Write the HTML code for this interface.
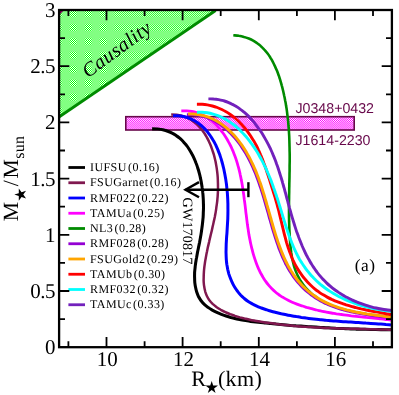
<!DOCTYPE html>
<html><head><meta charset="utf-8"><title>M-R</title>
<style>
html,body{margin:0;padding:0;background:#fff;}
svg{display:block;will-change:transform;}
text{font-family:"Liberation Serif",serif;fill:#000;text-rendering:geometricPrecision;}
.s{font-family:"Liberation Sans",sans-serif;fill:#67074a;}
</style></head><body>
<svg width="399" height="395" viewBox="0 0 399 395">
<rect width="399" height="395" fill="#fff"/>
<defs>
<pattern id="ckg" width="2" height="2" patternUnits="userSpaceOnUse" shape-rendering="crispEdges"><rect width="2" height="2" fill="#ffffff"/><rect width="1" height="1" fill="#00ff00"/><rect x="1" y="1" width="1" height="1" fill="#00ff00"/></pattern>
<pattern id="ckm" width="2" height="2" patternUnits="userSpaceOnUse" shape-rendering="crispEdges"><rect width="2" height="2" fill="#ffffff"/><rect width="1" height="1" fill="#ff00ff"/><rect x="1" y="1" width="1" height="1" fill="#ff00ff"/></pattern>
<clipPath id="cp"><rect x="59" y="10" width="333" height="337.2"/></clipPath>
<clipPath id="ctri"><polygon points="59.1,10.0 215.6,10.5 59.0,117.0"/></clipPath>
</defs>
<g clip-path="url(#ctri)" shape-rendering="crispEdges"><rect x="59" y="10" width="158" height="108" fill="url(#ckg)"/><g fill="#82ff82"><rect x="59" y="10" width="158" height="1" fill-opacity="0.31"/><rect x="59" y="11" width="158" height="1" fill-opacity="0.00"/><rect x="59" y="12" width="158" height="1" fill-opacity="0.00"/><rect x="59" y="13" width="158" height="1" fill-opacity="0.00"/><rect x="59" y="14" width="158" height="1" fill-opacity="0.00"/><rect x="59" y="15" width="158" height="1" fill-opacity="0.00"/><rect x="59" y="16" width="158" height="1" fill-opacity="0.23"/><rect x="59" y="17" width="158" height="1" fill-opacity="0.70"/><rect x="59" y="18" width="158" height="1" fill-opacity="0.90"/><rect x="59" y="19" width="158" height="1" fill-opacity="0.94"/><rect x="59" y="20" width="158" height="1" fill-opacity="0.96"/><rect x="59" y="21" width="158" height="1" fill-opacity="0.94"/><rect x="59" y="22" width="158" height="1" fill-opacity="0.92"/><rect x="59" y="23" width="158" height="1" fill-opacity="0.75"/><rect x="59" y="24" width="158" height="1" fill-opacity="0.27"/><rect x="59" y="25" width="158" height="1" fill-opacity="0.00"/><rect x="59" y="26" width="158" height="1" fill-opacity="0.00"/><rect x="59" y="27" width="158" height="1" fill-opacity="0.00"/><rect x="59" y="28" width="158" height="1" fill-opacity="0.00"/><rect x="59" y="29" width="158" height="1" fill-opacity="0.00"/><rect x="59" y="30" width="158" height="1" fill-opacity="0.27"/><rect x="59" y="31" width="158" height="1" fill-opacity="0.75"/><rect x="59" y="32" width="158" height="1" fill-opacity="0.92"/><rect x="59" y="33" width="158" height="1" fill-opacity="0.94"/><rect x="59" y="34" width="158" height="1" fill-opacity="0.96"/><rect x="59" y="35" width="158" height="1" fill-opacity="0.94"/><rect x="59" y="36" width="158" height="1" fill-opacity="0.90"/><rect x="59" y="37" width="158" height="1" fill-opacity="0.70"/><rect x="59" y="38" width="158" height="1" fill-opacity="0.23"/><rect x="59" y="39" width="158" height="1" fill-opacity="0.00"/><rect x="59" y="40" width="158" height="1" fill-opacity="0.00"/><rect x="59" y="41" width="158" height="1" fill-opacity="0.00"/><rect x="59" y="42" width="158" height="1" fill-opacity="0.00"/><rect x="59" y="43" width="158" height="1" fill-opacity="0.00"/><rect x="59" y="44" width="158" height="1" fill-opacity="0.31"/><rect x="59" y="45" width="158" height="1" fill-opacity="0.77"/><rect x="59" y="46" width="158" height="1" fill-opacity="0.92"/><rect x="59" y="47" width="158" height="1" fill-opacity="0.94"/><rect x="59" y="48" width="158" height="1" fill-opacity="0.96"/><rect x="59" y="49" width="158" height="1" fill-opacity="0.94"/><rect x="59" y="50" width="158" height="1" fill-opacity="0.89"/><rect x="59" y="51" width="158" height="1" fill-opacity="0.65"/><rect x="59" y="52" width="158" height="1" fill-opacity="0.19"/><rect x="59" y="53" width="158" height="1" fill-opacity="0.00"/><rect x="59" y="54" width="158" height="1" fill-opacity="0.00"/><rect x="59" y="55" width="158" height="1" fill-opacity="0.00"/><rect x="59" y="56" width="158" height="1" fill-opacity="0.00"/><rect x="59" y="57" width="158" height="1" fill-opacity="0.00"/><rect x="59" y="58" width="158" height="1" fill-opacity="0.35"/><rect x="59" y="59" width="158" height="1" fill-opacity="0.78"/><rect x="59" y="60" width="158" height="1" fill-opacity="0.92"/><rect x="59" y="61" width="158" height="1" fill-opacity="0.94"/><rect x="59" y="62" width="158" height="1" fill-opacity="0.95"/><rect x="59" y="63" width="158" height="1" fill-opacity="0.93"/><rect x="59" y="64" width="158" height="1" fill-opacity="0.87"/><rect x="59" y="65" width="158" height="1" fill-opacity="0.60"/><rect x="59" y="66" width="158" height="1" fill-opacity="0.16"/><rect x="59" y="67" width="158" height="1" fill-opacity="0.00"/><rect x="59" y="68" width="158" height="1" fill-opacity="0.00"/><rect x="59" y="69" width="158" height="1" fill-opacity="0.00"/><rect x="59" y="70" width="158" height="1" fill-opacity="0.00"/><rect x="59" y="71" width="158" height="1" fill-opacity="0.00"/><rect x="59" y="72" width="158" height="1" fill-opacity="0.40"/><rect x="59" y="73" width="158" height="1" fill-opacity="0.80"/><rect x="59" y="74" width="158" height="1" fill-opacity="0.93"/><rect x="59" y="75" width="158" height="1" fill-opacity="0.95"/><rect x="59" y="76" width="158" height="1" fill-opacity="0.95"/><rect x="59" y="77" width="158" height="1" fill-opacity="0.93"/><rect x="59" y="78" width="158" height="1" fill-opacity="0.85"/><rect x="59" y="79" width="158" height="1" fill-opacity="0.55"/><rect x="59" y="80" width="158" height="1" fill-opacity="0.12"/><rect x="59" y="81" width="158" height="1" fill-opacity="0.00"/><rect x="59" y="82" width="158" height="1" fill-opacity="0.00"/><rect x="59" y="83" width="158" height="1" fill-opacity="0.00"/><rect x="59" y="84" width="158" height="1" fill-opacity="0.00"/><rect x="59" y="85" width="158" height="1" fill-opacity="0.04"/><rect x="59" y="86" width="158" height="1" fill-opacity="0.45"/><rect x="59" y="87" width="158" height="1" fill-opacity="0.82"/><rect x="59" y="88" width="158" height="1" fill-opacity="0.93"/><rect x="59" y="89" width="158" height="1" fill-opacity="0.95"/><rect x="59" y="90" width="158" height="1" fill-opacity="0.95"/><rect x="59" y="91" width="158" height="1" fill-opacity="0.93"/><rect x="59" y="92" width="158" height="1" fill-opacity="0.83"/><rect x="59" y="93" width="158" height="1" fill-opacity="0.50"/><rect x="59" y="94" width="158" height="1" fill-opacity="0.08"/><rect x="59" y="95" width="158" height="1" fill-opacity="0.00"/><rect x="59" y="96" width="158" height="1" fill-opacity="0.00"/><rect x="59" y="97" width="158" height="1" fill-opacity="0.00"/><rect x="59" y="98" width="158" height="1" fill-opacity="0.00"/><rect x="59" y="99" width="158" height="1" fill-opacity="0.08"/><rect x="59" y="100" width="158" height="1" fill-opacity="0.50"/><rect x="59" y="101" width="158" height="1" fill-opacity="0.84"/><rect x="59" y="102" width="158" height="1" fill-opacity="0.93"/><rect x="59" y="103" width="158" height="1" fill-opacity="0.95"/><rect x="59" y="104" width="158" height="1" fill-opacity="0.95"/><rect x="59" y="105" width="158" height="1" fill-opacity="0.93"/><rect x="59" y="106" width="158" height="1" fill-opacity="0.82"/><rect x="59" y="107" width="158" height="1" fill-opacity="0.45"/><rect x="59" y="108" width="158" height="1" fill-opacity="0.04"/><rect x="59" y="109" width="158" height="1" fill-opacity="0.00"/><rect x="59" y="110" width="158" height="1" fill-opacity="0.00"/><rect x="59" y="111" width="158" height="1" fill-opacity="0.00"/><rect x="59" y="112" width="158" height="1" fill-opacity="0.00"/><rect x="59" y="113" width="158" height="1" fill-opacity="0.12"/><rect x="59" y="114" width="158" height="1" fill-opacity="0.55"/><rect x="59" y="115" width="158" height="1" fill-opacity="0.85"/><rect x="59" y="116" width="158" height="1" fill-opacity="0.93"/><rect x="59" y="117" width="158" height="1" fill-opacity="0.95"/><rect x="59" y="10" width="1" height="108" fill-opacity="0.00"/><rect x="60" y="10" width="1" height="108" fill-opacity="0.00"/><rect x="61" y="10" width="1" height="108" fill-opacity="0.35"/><rect x="62" y="10" width="1" height="108" fill-opacity="0.78"/><rect x="63" y="10" width="1" height="108" fill-opacity="0.92"/><rect x="64" y="10" width="1" height="108" fill-opacity="0.94"/><rect x="65" y="10" width="1" height="108" fill-opacity="0.96"/><rect x="66" y="10" width="1" height="108" fill-opacity="0.96"/><rect x="67" y="10" width="1" height="108" fill-opacity="0.94"/><rect x="68" y="10" width="1" height="108" fill-opacity="0.89"/><rect x="69" y="10" width="1" height="108" fill-opacity="0.65"/><rect x="70" y="10" width="1" height="108" fill-opacity="0.19"/><rect x="71" y="10" width="1" height="108" fill-opacity="0.00"/><rect x="72" y="10" width="1" height="108" fill-opacity="0.00"/><rect x="73" y="10" width="1" height="108" fill-opacity="0.00"/><rect x="74" y="10" width="1" height="108" fill-opacity="0.00"/><rect x="75" y="10" width="1" height="108" fill-opacity="0.00"/><rect x="76" y="10" width="1" height="108" fill-opacity="0.35"/><rect x="77" y="10" width="1" height="108" fill-opacity="0.78"/><rect x="78" y="10" width="1" height="108" fill-opacity="0.92"/><rect x="79" y="10" width="1" height="108" fill-opacity="0.94"/><rect x="80" y="10" width="1" height="108" fill-opacity="0.96"/><rect x="81" y="10" width="1" height="108" fill-opacity="0.96"/><rect x="82" y="10" width="1" height="108" fill-opacity="0.94"/><rect x="83" y="10" width="1" height="108" fill-opacity="0.89"/><rect x="84" y="10" width="1" height="108" fill-opacity="0.65"/><rect x="85" y="10" width="1" height="108" fill-opacity="0.19"/><rect x="86" y="10" width="1" height="108" fill-opacity="0.00"/><rect x="87" y="10" width="1" height="108" fill-opacity="0.00"/><rect x="88" y="10" width="1" height="108" fill-opacity="0.00"/><rect x="89" y="10" width="1" height="108" fill-opacity="0.00"/><rect x="90" y="10" width="1" height="108" fill-opacity="0.00"/><rect x="91" y="10" width="1" height="108" fill-opacity="0.35"/><rect x="92" y="10" width="1" height="108" fill-opacity="0.78"/><rect x="93" y="10" width="1" height="108" fill-opacity="0.92"/><rect x="94" y="10" width="1" height="108" fill-opacity="0.94"/><rect x="95" y="10" width="1" height="108" fill-opacity="0.96"/><rect x="96" y="10" width="1" height="108" fill-opacity="0.96"/><rect x="97" y="10" width="1" height="108" fill-opacity="0.94"/><rect x="98" y="10" width="1" height="108" fill-opacity="0.89"/><rect x="99" y="10" width="1" height="108" fill-opacity="0.65"/><rect x="100" y="10" width="1" height="108" fill-opacity="0.19"/><rect x="101" y="10" width="1" height="108" fill-opacity="0.00"/><rect x="102" y="10" width="1" height="108" fill-opacity="0.00"/><rect x="103" y="10" width="1" height="108" fill-opacity="0.00"/><rect x="104" y="10" width="1" height="108" fill-opacity="0.00"/><rect x="105" y="10" width="1" height="108" fill-opacity="0.00"/><rect x="106" y="10" width="1" height="108" fill-opacity="0.35"/><rect x="107" y="10" width="1" height="108" fill-opacity="0.78"/><rect x="108" y="10" width="1" height="108" fill-opacity="0.92"/><rect x="109" y="10" width="1" height="108" fill-opacity="0.94"/><rect x="110" y="10" width="1" height="108" fill-opacity="0.96"/><rect x="111" y="10" width="1" height="108" fill-opacity="0.90"/><rect x="112" y="10" width="1" height="108" fill-opacity="0.82"/><rect x="113" y="10" width="1" height="108" fill-opacity="0.73"/><rect x="114" y="10" width="1" height="108" fill-opacity="0.54"/><rect x="115" y="10" width="1" height="108" fill-opacity="0.29"/><rect x="116" y="10" width="1" height="108" fill-opacity="0.23"/><rect x="117" y="10" width="1" height="108" fill-opacity="0.27"/><rect x="118" y="10" width="1" height="108" fill-opacity="0.30"/><rect x="119" y="10" width="1" height="108" fill-opacity="0.34"/><rect x="120" y="10" width="1" height="108" fill-opacity="0.38"/><rect x="121" y="10" width="1" height="108" fill-opacity="0.38"/><rect x="122" y="10" width="1" height="108" fill-opacity="0.38"/><rect x="123" y="10" width="1" height="108" fill-opacity="0.38"/><rect x="124" y="10" width="1" height="108" fill-opacity="0.38"/><rect x="125" y="10" width="1" height="108" fill-opacity="0.38"/><rect x="126" y="10" width="1" height="108" fill-opacity="0.38"/><rect x="127" y="10" width="1" height="108" fill-opacity="0.38"/><rect x="128" y="10" width="1" height="108" fill-opacity="0.38"/><rect x="129" y="10" width="1" height="108" fill-opacity="0.38"/><rect x="130" y="10" width="1" height="108" fill-opacity="0.38"/><rect x="131" y="10" width="1" height="108" fill-opacity="0.38"/><rect x="132" y="10" width="1" height="108" fill-opacity="0.38"/><rect x="133" y="10" width="1" height="108" fill-opacity="0.38"/><rect x="134" y="10" width="1" height="108" fill-opacity="0.38"/><rect x="135" y="10" width="1" height="108" fill-opacity="0.38"/><rect x="136" y="10" width="1" height="108" fill-opacity="0.38"/><rect x="137" y="10" width="1" height="108" fill-opacity="0.38"/><rect x="138" y="10" width="1" height="108" fill-opacity="0.38"/><rect x="139" y="10" width="1" height="108" fill-opacity="0.38"/><rect x="140" y="10" width="1" height="108" fill-opacity="0.38"/><rect x="141" y="10" width="1" height="108" fill-opacity="0.38"/><rect x="142" y="10" width="1" height="108" fill-opacity="0.38"/><rect x="143" y="10" width="1" height="108" fill-opacity="0.38"/><rect x="144" y="10" width="1" height="108" fill-opacity="0.38"/><rect x="145" y="10" width="1" height="108" fill-opacity="0.38"/><rect x="146" y="10" width="1" height="108" fill-opacity="0.38"/><rect x="147" y="10" width="1" height="108" fill-opacity="0.38"/><rect x="148" y="10" width="1" height="108" fill-opacity="0.38"/><rect x="149" y="10" width="1" height="108" fill-opacity="0.38"/><rect x="150" y="10" width="1" height="108" fill-opacity="0.38"/><rect x="151" y="10" width="1" height="108" fill-opacity="0.38"/><rect x="152" y="10" width="1" height="108" fill-opacity="0.38"/><rect x="153" y="10" width="1" height="108" fill-opacity="0.38"/><rect x="154" y="10" width="1" height="108" fill-opacity="0.38"/><rect x="155" y="10" width="1" height="108" fill-opacity="0.38"/><rect x="156" y="10" width="1" height="108" fill-opacity="0.38"/><rect x="157" y="10" width="1" height="108" fill-opacity="0.38"/><rect x="158" y="10" width="1" height="108" fill-opacity="0.38"/><rect x="159" y="10" width="1" height="108" fill-opacity="0.38"/><rect x="160" y="10" width="1" height="108" fill-opacity="0.38"/><rect x="161" y="10" width="1" height="108" fill-opacity="0.38"/><rect x="162" y="10" width="1" height="108" fill-opacity="0.38"/><rect x="163" y="10" width="1" height="108" fill-opacity="0.38"/><rect x="164" y="10" width="1" height="108" fill-opacity="0.38"/><rect x="165" y="10" width="1" height="108" fill-opacity="0.38"/><rect x="166" y="10" width="1" height="108" fill-opacity="0.38"/><rect x="167" y="10" width="1" height="108" fill-opacity="0.38"/><rect x="168" y="10" width="1" height="108" fill-opacity="0.38"/><rect x="169" y="10" width="1" height="108" fill-opacity="0.38"/><rect x="170" y="10" width="1" height="108" fill-opacity="0.38"/><rect x="171" y="10" width="1" height="108" fill-opacity="0.38"/><rect x="172" y="10" width="1" height="108" fill-opacity="0.38"/><rect x="173" y="10" width="1" height="108" fill-opacity="0.38"/><rect x="174" y="10" width="1" height="108" fill-opacity="0.38"/><rect x="175" y="10" width="1" height="108" fill-opacity="0.38"/><rect x="176" y="10" width="1" height="108" fill-opacity="0.38"/><rect x="177" y="10" width="1" height="108" fill-opacity="0.38"/><rect x="178" y="10" width="1" height="108" fill-opacity="0.38"/><rect x="179" y="10" width="1" height="108" fill-opacity="0.38"/><rect x="180" y="10" width="1" height="108" fill-opacity="0.38"/><rect x="181" y="10" width="1" height="108" fill-opacity="0.38"/><rect x="182" y="10" width="1" height="108" fill-opacity="0.38"/><rect x="183" y="10" width="1" height="108" fill-opacity="0.38"/><rect x="184" y="10" width="1" height="108" fill-opacity="0.38"/><rect x="185" y="10" width="1" height="108" fill-opacity="0.38"/><rect x="186" y="10" width="1" height="108" fill-opacity="0.38"/><rect x="187" y="10" width="1" height="108" fill-opacity="0.38"/><rect x="188" y="10" width="1" height="108" fill-opacity="0.38"/><rect x="189" y="10" width="1" height="108" fill-opacity="0.38"/><rect x="190" y="10" width="1" height="108" fill-opacity="0.38"/><rect x="191" y="10" width="1" height="108" fill-opacity="0.38"/><rect x="192" y="10" width="1" height="108" fill-opacity="0.38"/><rect x="193" y="10" width="1" height="108" fill-opacity="0.38"/><rect x="194" y="10" width="1" height="108" fill-opacity="0.38"/><rect x="195" y="10" width="1" height="108" fill-opacity="0.38"/><rect x="196" y="10" width="1" height="108" fill-opacity="0.38"/><rect x="197" y="10" width="1" height="108" fill-opacity="0.38"/><rect x="198" y="10" width="1" height="108" fill-opacity="0.38"/><rect x="199" y="10" width="1" height="108" fill-opacity="0.38"/><rect x="200" y="10" width="1" height="108" fill-opacity="0.38"/><rect x="201" y="10" width="1" height="108" fill-opacity="0.38"/><rect x="202" y="10" width="1" height="108" fill-opacity="0.38"/><rect x="203" y="10" width="1" height="108" fill-opacity="0.38"/><rect x="204" y="10" width="1" height="108" fill-opacity="0.38"/><rect x="205" y="10" width="1" height="108" fill-opacity="0.38"/><rect x="206" y="10" width="1" height="108" fill-opacity="0.38"/><rect x="207" y="10" width="1" height="108" fill-opacity="0.38"/><rect x="208" y="10" width="1" height="108" fill-opacity="0.38"/><rect x="209" y="10" width="1" height="108" fill-opacity="0.38"/><rect x="210" y="10" width="1" height="108" fill-opacity="0.38"/><rect x="211" y="10" width="1" height="108" fill-opacity="0.38"/><rect x="212" y="10" width="1" height="108" fill-opacity="0.38"/><rect x="213" y="10" width="1" height="108" fill-opacity="0.38"/><rect x="214" y="10" width="1" height="108" fill-opacity="0.38"/><rect x="215" y="10" width="1" height="108" fill-opacity="0.38"/><rect x="216" y="10" width="1" height="108" fill-opacity="0.38"/></g></g>
<polygon points="59.5,10.5 63.8,10.5 59.5,14.8" fill="#800a5a"/>
<line x1="59.0" y1="117.0" x2="215.6" y2="10.5" stroke="#008b00" stroke-width="2.80"/>
<text x="0" y="0" font-style="italic" font-size="20.0" letter-spacing="0.45" transform="translate(88.0,78.4) rotate(-36.3)">Causality</text>
<g shape-rendering="crispEdges"><rect x="126" y="117" width="228" height="13" fill="url(#ckm)"/><g fill="#ff78ff"><rect x="126" y="117" width="228" height="1" fill-opacity="0.05"/><rect x="126" y="118" width="228" height="1" fill-opacity="0.00"/><rect x="126" y="119" width="228" height="1" fill-opacity="0.00"/><rect x="126" y="120" width="228" height="1" fill-opacity="0.00"/><rect x="126" y="121" width="228" height="1" fill-opacity="0.05"/><rect x="126" y="122" width="228" height="1" fill-opacity="0.44"/><rect x="126" y="123" width="228" height="1" fill-opacity="0.64"/><rect x="126" y="124" width="228" height="1" fill-opacity="0.66"/><rect x="126" y="125" width="228" height="1" fill-opacity="0.68"/><rect x="126" y="126" width="228" height="1" fill-opacity="0.68"/><rect x="126" y="127" width="228" height="1" fill-opacity="0.68"/><rect x="126" y="128" width="228" height="1" fill-opacity="0.66"/><rect x="126" y="129" width="228" height="1" fill-opacity="0.63"/><rect x="126" y="117" width="1" height="13" fill-opacity="0.30"/><rect x="127" y="117" width="1" height="13" fill-opacity="0.30"/><rect x="128" y="117" width="1" height="13" fill-opacity="0.30"/><rect x="129" y="117" width="1" height="13" fill-opacity="0.30"/><rect x="130" y="117" width="1" height="13" fill-opacity="0.30"/><rect x="131" y="117" width="1" height="13" fill-opacity="0.30"/><rect x="132" y="117" width="1" height="13" fill-opacity="0.30"/><rect x="133" y="117" width="1" height="13" fill-opacity="0.30"/><rect x="134" y="117" width="1" height="13" fill-opacity="0.30"/><rect x="135" y="117" width="1" height="13" fill-opacity="0.30"/><rect x="136" y="117" width="1" height="13" fill-opacity="0.30"/><rect x="137" y="117" width="1" height="13" fill-opacity="0.30"/><rect x="138" y="117" width="1" height="13" fill-opacity="0.30"/><rect x="139" y="117" width="1" height="13" fill-opacity="0.30"/><rect x="140" y="117" width="1" height="13" fill-opacity="0.30"/><rect x="141" y="117" width="1" height="13" fill-opacity="0.30"/><rect x="142" y="117" width="1" height="13" fill-opacity="0.30"/><rect x="143" y="117" width="1" height="13" fill-opacity="0.30"/><rect x="144" y="117" width="1" height="13" fill-opacity="0.30"/><rect x="145" y="117" width="1" height="13" fill-opacity="0.30"/><rect x="146" y="117" width="1" height="13" fill-opacity="0.30"/><rect x="147" y="117" width="1" height="13" fill-opacity="0.30"/><rect x="148" y="117" width="1" height="13" fill-opacity="0.30"/><rect x="149" y="117" width="1" height="13" fill-opacity="0.30"/><rect x="150" y="117" width="1" height="13" fill-opacity="0.30"/><rect x="151" y="117" width="1" height="13" fill-opacity="0.30"/><rect x="152" y="117" width="1" height="13" fill-opacity="0.30"/><rect x="153" y="117" width="1" height="13" fill-opacity="0.30"/><rect x="154" y="117" width="1" height="13" fill-opacity="0.30"/><rect x="155" y="117" width="1" height="13" fill-opacity="0.30"/><rect x="156" y="117" width="1" height="13" fill-opacity="0.30"/><rect x="157" y="117" width="1" height="13" fill-opacity="0.30"/><rect x="158" y="117" width="1" height="13" fill-opacity="0.30"/><rect x="159" y="117" width="1" height="13" fill-opacity="0.30"/><rect x="160" y="117" width="1" height="13" fill-opacity="0.30"/><rect x="161" y="117" width="1" height="13" fill-opacity="0.30"/><rect x="162" y="117" width="1" height="13" fill-opacity="0.30"/><rect x="163" y="117" width="1" height="13" fill-opacity="0.30"/><rect x="164" y="117" width="1" height="13" fill-opacity="0.30"/><rect x="165" y="117" width="1" height="13" fill-opacity="0.30"/><rect x="166" y="117" width="1" height="13" fill-opacity="0.30"/><rect x="167" y="117" width="1" height="13" fill-opacity="0.30"/><rect x="168" y="117" width="1" height="13" fill-opacity="0.30"/><rect x="169" y="117" width="1" height="13" fill-opacity="0.30"/><rect x="170" y="117" width="1" height="13" fill-opacity="0.30"/><rect x="171" y="117" width="1" height="13" fill-opacity="0.30"/><rect x="172" y="117" width="1" height="13" fill-opacity="0.30"/><rect x="173" y="117" width="1" height="13" fill-opacity="0.30"/><rect x="174" y="117" width="1" height="13" fill-opacity="0.30"/><rect x="175" y="117" width="1" height="13" fill-opacity="0.30"/><rect x="176" y="117" width="1" height="13" fill-opacity="0.30"/><rect x="177" y="117" width="1" height="13" fill-opacity="0.30"/><rect x="178" y="117" width="1" height="13" fill-opacity="0.30"/><rect x="179" y="117" width="1" height="13" fill-opacity="0.30"/><rect x="180" y="117" width="1" height="13" fill-opacity="0.30"/><rect x="181" y="117" width="1" height="13" fill-opacity="0.30"/><rect x="182" y="117" width="1" height="13" fill-opacity="0.30"/><rect x="183" y="117" width="1" height="13" fill-opacity="0.30"/><rect x="184" y="117" width="1" height="13" fill-opacity="0.30"/><rect x="185" y="117" width="1" height="13" fill-opacity="0.30"/><rect x="186" y="117" width="1" height="13" fill-opacity="0.30"/><rect x="187" y="117" width="1" height="13" fill-opacity="0.30"/><rect x="188" y="117" width="1" height="13" fill-opacity="0.30"/><rect x="189" y="117" width="1" height="13" fill-opacity="0.30"/><rect x="190" y="117" width="1" height="13" fill-opacity="0.30"/><rect x="191" y="117" width="1" height="13" fill-opacity="0.29"/><rect x="192" y="117" width="1" height="13" fill-opacity="0.29"/><rect x="193" y="117" width="1" height="13" fill-opacity="0.28"/><rect x="194" y="117" width="1" height="13" fill-opacity="0.28"/><rect x="195" y="117" width="1" height="13" fill-opacity="0.27"/><rect x="196" y="117" width="1" height="13" fill-opacity="0.30"/><rect x="197" y="117" width="1" height="13" fill-opacity="0.34"/><rect x="198" y="117" width="1" height="13" fill-opacity="0.36"/><rect x="199" y="117" width="1" height="13" fill-opacity="0.37"/><rect x="200" y="117" width="1" height="13" fill-opacity="0.38"/><rect x="201" y="117" width="1" height="13" fill-opacity="0.39"/><rect x="202" y="117" width="1" height="13" fill-opacity="0.39"/><rect x="203" y="117" width="1" height="13" fill-opacity="0.36"/><rect x="204" y="117" width="1" height="13" fill-opacity="0.26"/><rect x="205" y="117" width="1" height="13" fill-opacity="0.21"/><rect x="206" y="117" width="1" height="13" fill-opacity="0.20"/><rect x="207" y="117" width="1" height="13" fill-opacity="0.20"/><rect x="208" y="117" width="1" height="13" fill-opacity="0.19"/><rect x="209" y="117" width="1" height="13" fill-opacity="0.19"/><rect x="210" y="117" width="1" height="13" fill-opacity="0.27"/><rect x="211" y="117" width="1" height="13" fill-opacity="0.42"/><rect x="212" y="117" width="1" height="13" fill-opacity="0.47"/><rect x="213" y="117" width="1" height="13" fill-opacity="0.49"/><rect x="214" y="117" width="1" height="13" fill-opacity="0.50"/><rect x="215" y="117" width="1" height="13" fill-opacity="0.50"/><rect x="216" y="117" width="1" height="13" fill-opacity="0.50"/><rect x="217" y="117" width="1" height="13" fill-opacity="0.46"/><rect x="218" y="117" width="1" height="13" fill-opacity="0.28"/><rect x="219" y="117" width="1" height="13" fill-opacity="0.13"/><rect x="220" y="117" width="1" height="13" fill-opacity="0.12"/><rect x="221" y="117" width="1" height="13" fill-opacity="0.11"/><rect x="222" y="117" width="1" height="13" fill-opacity="0.11"/><rect x="223" y="117" width="1" height="13" fill-opacity="0.10"/><rect x="224" y="117" width="1" height="13" fill-opacity="0.20"/><rect x="225" y="117" width="1" height="13" fill-opacity="0.43"/><rect x="226" y="117" width="1" height="13" fill-opacity="0.56"/><rect x="227" y="117" width="1" height="13" fill-opacity="0.60"/><rect x="228" y="117" width="1" height="13" fill-opacity="0.62"/><rect x="229" y="117" width="1" height="13" fill-opacity="0.62"/><rect x="230" y="117" width="1" height="13" fill-opacity="0.62"/><rect x="231" y="117" width="1" height="13" fill-opacity="0.57"/><rect x="232" y="117" width="1" height="13" fill-opacity="0.36"/><rect x="233" y="117" width="1" height="13" fill-opacity="0.09"/><rect x="234" y="117" width="1" height="13" fill-opacity="0.04"/><rect x="235" y="117" width="1" height="13" fill-opacity="0.03"/><rect x="236" y="117" width="1" height="13" fill-opacity="0.02"/><rect x="237" y="117" width="1" height="13" fill-opacity="0.02"/><rect x="238" y="117" width="1" height="13" fill-opacity="0.07"/><rect x="239" y="117" width="1" height="13" fill-opacity="0.37"/><rect x="240" y="117" width="1" height="13" fill-opacity="0.63"/><rect x="241" y="117" width="1" height="13" fill-opacity="0.70"/><rect x="242" y="117" width="1" height="13" fill-opacity="0.71"/><rect x="243" y="117" width="1" height="13" fill-opacity="0.72"/><rect x="244" y="117" width="1" height="13" fill-opacity="0.70"/><rect x="245" y="117" width="1" height="13" fill-opacity="0.66"/><rect x="246" y="117" width="1" height="13" fill-opacity="0.49"/><rect x="247" y="117" width="1" height="13" fill-opacity="0.15"/><rect x="248" y="117" width="1" height="13" fill-opacity="0.00"/><rect x="249" y="117" width="1" height="13" fill-opacity="0.00"/><rect x="250" y="117" width="1" height="13" fill-opacity="0.00"/><rect x="251" y="117" width="1" height="13" fill-opacity="0.00"/><rect x="252" y="117" width="1" height="13" fill-opacity="0.00"/><rect x="253" y="117" width="1" height="13" fill-opacity="0.26"/><rect x="254" y="117" width="1" height="13" fill-opacity="0.59"/><rect x="255" y="117" width="1" height="13" fill-opacity="0.69"/><rect x="256" y="117" width="1" height="13" fill-opacity="0.71"/><rect x="257" y="117" width="1" height="13" fill-opacity="0.72"/><rect x="258" y="117" width="1" height="13" fill-opacity="0.71"/><rect x="259" y="117" width="1" height="13" fill-opacity="0.69"/><rect x="260" y="117" width="1" height="13" fill-opacity="0.58"/><rect x="261" y="117" width="1" height="13" fill-opacity="0.23"/><rect x="262" y="117" width="1" height="13" fill-opacity="0.00"/><rect x="263" y="117" width="1" height="13" fill-opacity="0.00"/><rect x="264" y="117" width="1" height="13" fill-opacity="0.00"/><rect x="265" y="117" width="1" height="13" fill-opacity="0.00"/><rect x="266" y="117" width="1" height="13" fill-opacity="0.00"/><rect x="267" y="117" width="1" height="13" fill-opacity="0.18"/><rect x="268" y="117" width="1" height="13" fill-opacity="0.53"/><rect x="269" y="117" width="1" height="13" fill-opacity="0.68"/><rect x="270" y="117" width="1" height="13" fill-opacity="0.70"/><rect x="271" y="117" width="1" height="13" fill-opacity="0.72"/><rect x="272" y="117" width="1" height="13" fill-opacity="0.71"/><rect x="273" y="117" width="1" height="13" fill-opacity="0.70"/><rect x="274" y="117" width="1" height="13" fill-opacity="0.61"/><rect x="275" y="117" width="1" height="13" fill-opacity="0.34"/><rect x="276" y="117" width="1" height="13" fill-opacity="0.03"/><rect x="277" y="117" width="1" height="13" fill-opacity="0.00"/><rect x="278" y="117" width="1" height="13" fill-opacity="0.00"/><rect x="279" y="117" width="1" height="13" fill-opacity="0.00"/><rect x="280" y="117" width="1" height="13" fill-opacity="0.00"/><rect x="281" y="117" width="1" height="13" fill-opacity="0.09"/><rect x="282" y="117" width="1" height="13" fill-opacity="0.41"/><rect x="283" y="117" width="1" height="13" fill-opacity="0.64"/><rect x="284" y="117" width="1" height="13" fill-opacity="0.70"/><rect x="285" y="117" width="1" height="13" fill-opacity="0.71"/><rect x="286" y="117" width="1" height="13" fill-opacity="0.72"/><rect x="287" y="117" width="1" height="13" fill-opacity="0.70"/><rect x="288" y="117" width="1" height="13" fill-opacity="0.65"/><rect x="289" y="117" width="1" height="13" fill-opacity="0.45"/><rect x="290" y="117" width="1" height="13" fill-opacity="0.12"/><rect x="291" y="117" width="1" height="13" fill-opacity="0.00"/><rect x="292" y="117" width="1" height="13" fill-opacity="0.00"/><rect x="293" y="117" width="1" height="13" fill-opacity="0.00"/><rect x="294" y="117" width="1" height="13" fill-opacity="0.00"/><rect x="295" y="117" width="1" height="13" fill-opacity="0.00"/><rect x="296" y="117" width="1" height="13" fill-opacity="0.30"/><rect x="297" y="117" width="1" height="13" fill-opacity="0.60"/><rect x="298" y="117" width="1" height="13" fill-opacity="0.69"/><rect x="299" y="117" width="1" height="13" fill-opacity="0.71"/><rect x="300" y="117" width="1" height="13" fill-opacity="0.72"/><rect x="301" y="117" width="1" height="13" fill-opacity="0.70"/><rect x="302" y="117" width="1" height="13" fill-opacity="0.69"/><rect x="303" y="117" width="1" height="13" fill-opacity="0.56"/><rect x="304" y="117" width="1" height="13" fill-opacity="0.20"/><rect x="305" y="117" width="1" height="13" fill-opacity="0.00"/><rect x="306" y="117" width="1" height="13" fill-opacity="0.00"/><rect x="307" y="117" width="1" height="13" fill-opacity="0.00"/><rect x="308" y="117" width="1" height="13" fill-opacity="0.00"/><rect x="309" y="117" width="1" height="13" fill-opacity="0.00"/><rect x="310" y="117" width="1" height="13" fill-opacity="0.20"/><rect x="311" y="117" width="1" height="13" fill-opacity="0.56"/><rect x="312" y="117" width="1" height="13" fill-opacity="0.69"/><rect x="313" y="117" width="1" height="13" fill-opacity="0.71"/><rect x="314" y="117" width="1" height="13" fill-opacity="0.72"/><rect x="315" y="117" width="1" height="13" fill-opacity="0.71"/><rect x="316" y="117" width="1" height="13" fill-opacity="0.69"/><rect x="317" y="117" width="1" height="13" fill-opacity="0.60"/><rect x="318" y="117" width="1" height="13" fill-opacity="0.30"/><rect x="319" y="117" width="1" height="13" fill-opacity="0.00"/><rect x="320" y="117" width="1" height="13" fill-opacity="0.00"/><rect x="321" y="117" width="1" height="13" fill-opacity="0.00"/><rect x="322" y="117" width="1" height="13" fill-opacity="0.00"/><rect x="323" y="117" width="1" height="13" fill-opacity="0.00"/><rect x="324" y="117" width="1" height="13" fill-opacity="0.12"/><rect x="325" y="117" width="1" height="13" fill-opacity="0.45"/><rect x="326" y="117" width="1" height="13" fill-opacity="0.65"/><rect x="327" y="117" width="1" height="13" fill-opacity="0.70"/><rect x="328" y="117" width="1" height="13" fill-opacity="0.72"/><rect x="329" y="117" width="1" height="13" fill-opacity="0.71"/><rect x="330" y="117" width="1" height="13" fill-opacity="0.70"/><rect x="331" y="117" width="1" height="13" fill-opacity="0.64"/><rect x="332" y="117" width="1" height="13" fill-opacity="0.41"/><rect x="333" y="117" width="1" height="13" fill-opacity="0.09"/><rect x="334" y="117" width="1" height="13" fill-opacity="0.00"/><rect x="335" y="117" width="1" height="13" fill-opacity="0.00"/><rect x="336" y="117" width="1" height="13" fill-opacity="0.00"/><rect x="337" y="117" width="1" height="13" fill-opacity="0.00"/><rect x="338" y="117" width="1" height="13" fill-opacity="0.03"/><rect x="339" y="117" width="1" height="13" fill-opacity="0.34"/><rect x="340" y="117" width="1" height="13" fill-opacity="0.61"/><rect x="341" y="117" width="1" height="13" fill-opacity="0.70"/><rect x="342" y="117" width="1" height="13" fill-opacity="0.71"/><rect x="343" y="117" width="1" height="13" fill-opacity="0.72"/><rect x="344" y="117" width="1" height="13" fill-opacity="0.70"/><rect x="345" y="117" width="1" height="13" fill-opacity="0.68"/><rect x="346" y="117" width="1" height="13" fill-opacity="0.52"/><rect x="347" y="117" width="1" height="13" fill-opacity="0.17"/><rect x="348" y="117" width="1" height="13" fill-opacity="0.00"/><rect x="349" y="117" width="1" height="13" fill-opacity="0.00"/><rect x="350" y="117" width="1" height="13" fill-opacity="0.00"/><rect x="351" y="117" width="1" height="13" fill-opacity="0.00"/><rect x="352" y="117" width="1" height="13" fill-opacity="0.00"/><rect x="353" y="117" width="1" height="13" fill-opacity="0.23"/></g></g><rect x="125.8" y="116.7" width="228.4" height="13.3" fill="none" stroke="#67074a" stroke-width="1.60"/>
<g fill="none" stroke-width="2.60" stroke-linecap="butt" stroke-linejoin="round" clip-path="url(#cp)">
<path d="M152.1,128.9C153.0,128.9 155.9,128.9 157.7,129.0C159.5,129.2 161.2,129.4 162.8,129.8C164.5,130.2 166.1,130.6 167.7,131.2C169.2,131.7 170.7,132.4 172.1,133.1C173.5,133.8 174.9,134.7 176.2,135.6C177.5,136.4 178.8,137.4 180.0,138.4C181.2,139.5 182.3,140.6 183.4,141.8C184.5,142.9 185.5,144.2 186.5,145.4C187.5,146.7 188.4,148.1 189.3,149.5C190.2,150.9 191.0,152.3 191.8,153.8C192.6,155.2 193.4,156.8 194.1,158.3C194.8,159.8 195.4,161.4 196.0,163.0C196.7,164.6 197.2,166.2 197.7,167.9C198.3,169.5 198.8,171.2 199.2,172.9C199.6,174.5 200.1,176.2 200.4,177.9C200.8,179.6 201.1,181.3 201.4,182.9C201.7,184.6 202.0,186.3 202.2,187.9C202.5,189.6 202.7,191.3 202.8,192.9C203.0,194.6 203.1,196.2 203.2,197.9C203.3,199.5 203.4,201.2 203.4,202.8C203.5,204.4 203.5,206.1 203.5,207.7C203.5,209.4 203.4,211.0 203.3,212.6C203.3,214.3 203.2,215.9 203.1,217.6C202.9,219.2 202.8,220.8 202.6,222.5C202.4,224.1 202.3,225.8 202.0,227.4C201.8,229.0 201.6,230.7 201.3,232.4C201.1,234.0 200.8,235.7 200.5,237.3C200.2,239.0 199.9,240.7 199.6,242.3C199.2,244.0 198.9,245.7 198.5,247.4C198.2,249.1 197.8,250.8 197.5,252.4C197.2,254.1 196.9,255.8 196.6,257.5C196.2,259.2 196.0,260.9 195.7,262.6C195.5,264.3 195.2,265.9 195.1,267.6C194.9,269.3 194.7,271.0 194.6,272.7C194.6,274.3 194.5,276.0 194.6,277.6C194.6,279.3 194.7,281.0 194.8,282.6C195.0,284.2 195.2,285.9 195.6,287.5C195.9,289.1 196.3,290.7 196.8,292.3C197.3,293.8 197.9,295.3 198.6,296.8C199.3,298.2 200.2,299.5 201.1,300.8C202.1,302.1 203.1,303.3 204.3,304.4C205.5,305.5 206.8,306.5 208.1,307.4C209.4,308.4 210.9,309.3 212.3,310.1C213.8,310.9 215.3,311.6 216.8,312.3C218.3,313.0 219.9,313.7 221.4,314.3C223.0,314.9 224.6,315.5 226.1,316.0C227.7,316.5 229.3,317.0 230.9,317.5C232.6,317.9 234.2,318.3 235.8,318.7C237.4,319.1 239.1,319.4 240.7,319.8C242.4,320.1 244.1,320.4 245.7,320.6C247.4,320.9 249.1,321.2 250.7,321.4C252.4,321.6 254.1,321.8 255.8,322.0C257.5,322.2 259.1,322.4 260.8,322.6C262.5,322.8 264.2,322.9 265.9,323.1C267.6,323.3 269.2,323.4 270.9,323.6C272.6,323.7 274.3,323.9 276.0,324.1C277.6,324.2 279.3,324.4 281.0,324.5C282.7,324.7 284.3,324.8 286.0,324.9C287.7,325.1 289.3,325.2 291.0,325.4C292.7,325.5 294.3,325.6 296.0,325.8C297.7,325.9 299.3,326.0 301.0,326.1C302.7,326.3 304.3,326.4 306.0,326.5C307.6,326.6 309.3,326.7 310.9,326.8C312.6,326.9 314.3,327.0 315.9,327.1C317.6,327.3 319.2,327.4 320.9,327.5C322.5,327.6 324.2,327.6 325.9,327.7C327.5,327.8 329.2,327.9 330.8,328.0C332.5,328.1 334.2,328.2 335.8,328.3C337.5,328.3 339.1,328.4 340.8,328.5C342.5,328.6 344.1,328.6 345.8,328.7C347.4,328.8 349.1,328.8 350.8,328.9C352.4,328.9 354.1,329.0 355.8,329.1C357.4,329.1 359.1,329.2 360.8,329.2C362.4,329.3 364.1,329.3 365.8,329.3C367.4,329.4 369.1,329.4 370.8,329.4C372.5,329.5 374.1,329.5 375.8,329.5C377.5,329.6 379.2,329.6 380.9,329.6C382.6,329.6 384.2,329.6 385.9,329.7C387.6,329.7 390.2,329.7 391.0,329.7" stroke="#000000" stroke-width="3.05"/>
<path d="M171.2,114.5C172.1,114.5 174.9,114.6 176.6,114.8C178.4,115.0 180.1,115.3 181.7,115.8C183.3,116.2 184.9,116.8 186.4,117.4C187.9,118.1 189.3,118.8 190.7,119.6C192.1,120.5 193.4,121.4 194.6,122.4C195.9,123.4 197.1,124.4 198.2,125.6C199.3,126.7 200.4,127.9 201.4,129.2C202.5,130.5 203.4,131.8 204.4,133.2C205.3,134.6 206.1,136.0 206.9,137.5C207.8,139.0 208.5,140.5 209.2,142.1C210.0,143.6 210.6,145.2 211.2,146.8C211.8,148.5 212.4,150.1 212.9,151.8C213.5,153.4 214.0,155.1 214.4,156.8C214.8,158.4 215.2,160.1 215.6,161.8C215.9,163.5 216.2,165.2 216.5,166.9C216.8,168.6 217.0,170.3 217.2,171.9C217.4,173.6 217.6,175.3 217.7,177.0C217.8,178.7 217.9,180.4 217.9,182.1C218.0,183.7 218.0,185.4 218.0,187.1C218.0,188.8 218.0,190.5 217.9,192.1C217.8,193.8 217.7,195.5 217.6,197.2C217.4,198.8 217.3,200.5 217.1,202.2C216.9,203.8 216.7,205.5 216.4,207.1C216.2,208.8 216.0,210.4 215.7,212.1C215.4,213.7 215.1,215.4 214.8,217.0C214.4,218.7 214.1,220.3 213.7,221.9C213.4,223.6 213.0,225.2 212.6,226.8C212.3,228.5 211.9,230.1 211.5,231.8C211.1,233.4 210.7,235.0 210.3,236.7C209.9,238.3 209.5,240.0 209.2,241.6C208.8,243.2 208.4,244.9 208.0,246.6C207.7,248.2 207.3,249.9 207.0,251.5C206.6,253.2 206.3,254.9 206.0,256.6C205.7,258.2 205.4,259.9 205.1,261.6C204.9,263.3 204.6,265.0 204.4,266.7C204.2,268.4 204.0,270.2 203.9,271.9C203.8,273.6 203.7,275.3 203.7,277.1C203.6,278.8 203.6,280.5 203.7,282.2C203.8,283.8 204.0,285.5 204.3,287.1C204.5,288.7 204.9,290.3 205.3,291.8C205.8,293.3 206.3,294.8 207.0,296.2C207.7,297.6 208.5,299.0 209.4,300.3C210.3,301.5 211.4,302.7 212.6,303.9C213.8,305.0 215.1,306.0 216.4,307.0C217.8,308.0 219.3,308.9 220.8,309.8C222.3,310.6 223.8,311.4 225.4,312.1C227.0,312.9 228.6,313.5 230.2,314.2C231.8,314.8 233.4,315.3 235.0,315.9C236.6,316.4 238.3,316.9 239.9,317.4C241.6,317.8 243.2,318.2 244.9,318.6C246.6,319.0 248.2,319.4 249.9,319.7C251.6,320.1 253.3,320.4 254.9,320.7C256.6,321.0 258.3,321.3 259.9,321.6C261.6,321.9 263.3,322.1 265.0,322.4C266.6,322.7 268.3,322.9 270.0,323.1C271.7,323.4 273.3,323.6 275.0,323.8C276.7,324.0 278.4,324.2 280.0,324.4C281.7,324.6 283.4,324.8 285.1,325.0C286.7,325.2 288.4,325.4 290.1,325.5C291.8,325.7 293.4,325.8 295.1,326.0C296.8,326.1 298.4,326.3 300.1,326.4C301.8,326.5 303.5,326.6 305.1,326.8C306.8,326.9 308.5,327.0 310.2,327.1C311.8,327.2 313.5,327.3 315.2,327.4C316.9,327.5 318.6,327.6 320.2,327.6C321.9,327.7 323.6,327.8 325.3,327.9C326.9,327.9 328.6,328.0 330.3,328.1C332.0,328.1 333.6,328.2 335.3,328.2C337.0,328.3 338.7,328.4 340.4,328.4C342.1,328.5 343.7,328.5 345.4,328.6C347.1,328.6 348.8,328.7 350.5,328.7C352.1,328.7 353.8,328.8 355.5,328.8C357.2,328.9 358.9,328.9 360.6,328.9C362.2,329.0 363.9,329.0 365.6,329.1C367.3,329.1 369.0,329.2 370.7,329.2C372.4,329.2 374.1,329.3 375.8,329.3C377.4,329.4 379.1,329.4 380.8,329.5C382.5,329.5 384.2,329.6 385.9,329.6C387.6,329.7 390.2,329.8 391.0,329.8" stroke="#80184f" stroke-width="2.50"/>
<path d="M173.0,115.7C173.9,115.7 176.6,115.6 178.3,115.8C180.1,115.9 181.8,116.2 183.4,116.5C185.1,116.9 186.7,117.3 188.2,117.9C189.8,118.5 191.3,119.1 192.8,119.9C194.2,120.6 195.6,121.4 197.0,122.3C198.3,123.2 199.7,124.2 200.9,125.3C202.2,126.3 203.3,127.4 204.5,128.6C205.6,129.8 206.7,131.0 207.8,132.3C208.8,133.6 209.8,134.9 210.7,136.3C211.6,137.6 212.5,139.1 213.3,140.5C214.2,141.9 214.9,143.4 215.7,144.9C216.4,146.4 217.1,148.0 217.8,149.6C218.4,151.1 219.0,152.7 219.6,154.3C220.1,155.9 220.7,157.5 221.2,159.2C221.7,160.8 222.1,162.4 222.6,164.1C223.0,165.7 223.4,167.4 223.8,169.0C224.1,170.7 224.5,172.3 224.8,174.0C225.1,175.6 225.4,177.2 225.7,178.9C225.9,180.5 226.2,182.2 226.4,183.8C226.6,185.5 226.8,187.1 226.9,188.7C227.1,190.4 227.3,192.0 227.4,193.7C227.5,195.3 227.6,197.0 227.7,198.6C227.8,200.3 227.8,201.9 227.9,203.6C227.9,205.2 227.9,206.9 227.9,208.5C228.0,210.2 227.9,211.9 227.9,213.5C227.9,215.2 227.8,216.9 227.8,218.6C227.7,220.2 227.6,221.9 227.5,223.6C227.4,225.3 227.3,227.0 227.2,228.7C227.1,230.4 227.0,232.1 226.9,233.8C226.7,235.5 226.6,237.2 226.5,238.9C226.4,240.7 226.3,242.4 226.2,244.1C226.2,245.8 226.1,247.5 226.1,249.2C226.0,250.9 226.0,252.6 226.1,254.3C226.1,256.0 226.2,257.7 226.3,259.4C226.4,261.0 226.6,262.7 226.8,264.3C227.1,266.0 227.4,267.6 227.7,269.3C228.1,270.9 228.5,272.5 228.9,274.1C229.4,275.7 230.0,277.2 230.6,278.8C231.2,280.3 231.8,281.8 232.6,283.3C233.3,284.7 234.1,286.2 234.9,287.5C235.8,288.9 236.7,290.2 237.7,291.5C238.6,292.8 239.7,294.0 240.8,295.2C241.9,296.3 243.1,297.4 244.3,298.5C245.5,299.5 246.8,300.5 248.2,301.4C249.5,302.3 250.9,303.1 252.3,303.9C253.8,304.7 255.3,305.4 256.8,306.1C258.3,306.8 259.9,307.4 261.4,308.0C263.0,308.6 264.6,309.2 266.3,309.7C267.9,310.3 269.6,310.7 271.2,311.2C272.9,311.7 274.6,312.1 276.2,312.5C277.9,312.9 279.6,313.3 281.3,313.7C283.0,314.0 284.6,314.4 286.3,314.7C288.0,315.1 289.7,315.4 291.3,315.7C293.0,316.0 294.6,316.3 296.3,316.6C298.0,316.8 299.6,317.1 301.3,317.4C303.0,317.6 304.6,317.8 306.3,318.1C307.9,318.3 309.6,318.5 311.2,318.7C312.9,318.9 314.5,319.1 316.2,319.3C317.8,319.5 319.5,319.6 321.1,319.8C322.8,320.0 324.4,320.1 326.1,320.3C327.7,320.4 329.4,320.6 331.0,320.7C332.7,320.8 334.3,321.0 336.0,321.1C337.6,321.2 339.3,321.3 340.9,321.4C342.6,321.6 344.2,321.7 345.9,321.8C347.6,321.9 349.2,322.0 350.9,322.1C352.5,322.2 354.2,322.3 355.8,322.4C357.5,322.5 359.1,322.6 360.8,322.7C362.5,322.8 364.1,322.9 365.8,323.1C367.5,323.2 369.1,323.3 370.8,323.4C372.5,323.5 374.2,323.6 375.8,323.7C377.5,323.8 379.2,324.0 380.9,324.1C382.6,324.2 384.2,324.3 385.9,324.5C387.6,324.6 390.2,324.8 391.0,324.9" stroke="#0000ff" stroke-width="3.00"/>
<path d="M181.3,110.9C182.2,110.9 184.9,110.8 186.7,110.9C188.4,111.0 190.1,111.2 191.8,111.5C193.4,111.8 195.1,112.2 196.6,112.7C198.2,113.2 199.7,113.7 201.2,114.4C202.7,115.0 204.1,115.8 205.5,116.6C206.9,117.4 208.2,118.3 209.5,119.2C210.8,120.1 212.1,121.2 213.3,122.2C214.6,123.3 215.7,124.4 216.9,125.6C218.0,126.8 219.1,128.0 220.1,129.3C221.2,130.6 222.2,131.9 223.2,133.3C224.2,134.7 225.1,136.1 226.0,137.5C226.9,138.9 227.7,140.4 228.5,141.9C229.4,143.4 230.1,144.9 230.9,146.4C231.6,148.0 232.3,149.5 233.0,151.1C233.6,152.7 234.2,154.2 234.8,155.8C235.4,157.4 236.0,159.0 236.5,160.6C237.0,162.2 237.5,163.8 237.9,165.4C238.4,167.0 238.8,168.6 239.2,170.2C239.6,171.8 240.0,173.4 240.3,175.1C240.7,176.7 241.0,178.3 241.3,179.9C241.7,181.6 241.9,183.2 242.2,184.8C242.5,186.5 242.8,188.1 243.0,189.8C243.2,191.4 243.5,193.1 243.7,194.7C243.9,196.4 244.1,198.0 244.3,199.7C244.6,201.4 244.8,203.0 245.0,204.7C245.2,206.3 245.4,208.0 245.6,209.7C245.7,211.3 245.9,213.0 246.2,214.7C246.4,216.3 246.6,218.0 246.8,219.7C247.0,221.3 247.2,223.0 247.4,224.6C247.7,226.3 247.9,228.0 248.2,229.6C248.4,231.3 248.7,232.9 248.9,234.6C249.2,236.2 249.5,237.9 249.9,239.6C250.2,241.2 250.5,242.9 250.9,244.5C251.3,246.1 251.6,247.8 252.1,249.4C252.5,251.1 252.9,252.7 253.4,254.3C253.9,256.0 254.4,257.6 254.9,259.2C255.4,260.8 256.0,262.4 256.6,263.9C257.2,265.5 257.8,267.0 258.5,268.6C259.2,270.1 259.9,271.6 260.6,273.0C261.4,274.5 262.2,275.9 263.0,277.3C263.9,278.7 264.7,280.1 265.7,281.4C266.6,282.7 267.6,284.0 268.6,285.2C269.6,286.5 270.7,287.6 271.9,288.8C273.0,289.9 274.2,291.0 275.4,292.0C276.6,293.1 277.9,294.0 279.2,295.0C280.6,295.9 281.9,296.8 283.4,297.6C284.8,298.5 286.2,299.3 287.7,300.0C289.2,300.8 290.7,301.5 292.2,302.2C293.7,302.9 295.3,303.5 296.9,304.1C298.5,304.7 300.1,305.3 301.7,305.8C303.3,306.4 305.0,306.9 306.6,307.4C308.2,307.8 309.9,308.3 311.6,308.7C313.2,309.2 314.9,309.6 316.5,310.0C318.2,310.4 319.8,310.7 321.5,311.1C323.1,311.4 324.8,311.8 326.4,312.1C328.1,312.4 329.8,312.7 331.4,313.0C333.1,313.3 334.7,313.5 336.4,313.8C338.0,314.0 339.7,314.3 341.4,314.5C343.0,314.7 344.7,314.9 346.3,315.1C348.0,315.4 349.6,315.6 351.3,315.8C352.9,315.9 354.6,316.1 356.3,316.3C357.9,316.5 359.6,316.7 361.2,316.9C362.9,317.0 364.5,317.2 366.2,317.4C367.8,317.5 369.5,317.7 371.1,317.9C372.8,318.0 374.5,318.2 376.1,318.4C377.8,318.6 379.4,318.7 381.1,318.9C382.7,319.1 384.4,319.3 386.0,319.5C387.7,319.7 390.2,320.0 391.0,320.1" stroke="#ff00ff" stroke-width="2.80"/>
<path d="M233.3,35.3C234.2,35.4 237.1,35.5 238.9,35.8C240.7,36.0 242.4,36.4 244.0,36.9C245.7,37.3 247.3,37.9 248.8,38.5C250.3,39.1 251.8,39.8 253.2,40.6C254.6,41.4 256.0,42.2 257.2,43.2C258.5,44.1 259.8,45.1 260.9,46.2C262.1,47.2 263.2,48.4 264.3,49.6C265.4,50.7 266.4,52.0 267.4,53.3C268.4,54.6 269.3,55.9 270.2,57.3C271.0,58.7 271.9,60.1 272.7,61.6C273.5,63.1 274.2,64.6 274.9,66.1C275.6,67.6 276.3,69.2 277.0,70.8C277.6,72.4 278.2,74.0 278.8,75.7C279.3,77.3 279.9,78.9 280.4,80.6C280.9,82.3 281.4,83.9 281.8,85.6C282.3,87.3 282.7,89.0 283.1,90.7C283.5,92.4 283.9,94.1 284.2,95.8C284.6,97.4 284.9,99.1 285.2,100.8C285.6,102.5 285.9,104.2 286.1,105.8C286.4,107.5 286.7,109.2 286.9,110.9C287.1,112.5 287.3,114.2 287.5,115.9C287.7,117.6 287.9,119.3 288.1,120.9C288.3,122.6 288.4,124.3 288.5,126.0C288.7,127.6 288.8,129.3 288.9,131.0C289.0,132.6 289.1,134.3 289.2,136.0C289.3,137.7 289.3,139.3 289.4,141.0C289.4,142.7 289.5,144.3 289.5,146.0C289.6,147.7 289.6,149.4 289.6,151.0C289.7,152.7 289.7,154.4 289.7,156.1C289.7,157.7 289.7,159.4 289.7,161.1C289.7,162.7 289.6,164.4 289.6,166.1C289.6,167.8 289.6,169.4 289.6,171.1C289.5,172.8 289.5,174.5 289.5,176.2C289.5,177.8 289.4,179.5 289.4,181.2C289.3,182.9 289.3,184.5 289.3,186.2C289.2,187.9 289.2,189.6 289.2,191.3C289.2,192.9 289.1,194.6 289.1,196.3C289.1,198.0 289.1,199.7 289.0,201.4C289.0,203.1 289.0,204.7 289.0,206.4C289.0,208.1 289.0,209.8 289.0,211.5C289.0,213.2 289.0,214.9 289.0,216.6C289.1,218.3 289.1,220.0 289.1,221.7C289.2,223.4 289.2,225.1 289.3,226.8C289.3,228.5 289.4,230.2 289.5,231.9C289.6,233.6 289.7,235.3 289.8,237.1C289.9,238.8 290.0,240.5 290.1,242.2C290.3,243.9 290.4,245.6 290.6,247.3C290.8,249.0 291.0,250.7 291.2,252.4C291.5,254.1 291.7,255.8 292.0,257.5C292.4,259.2 292.7,260.8 293.1,262.4C293.5,264.1 293.9,265.7 294.4,267.3C294.9,268.9 295.4,270.4 296.1,271.9C296.7,273.5 297.3,275.0 298.1,276.4C298.8,277.9 299.6,279.3 300.5,280.7C301.3,282.1 302.3,283.5 303.3,284.8C304.3,286.1 305.3,287.4 306.5,288.6C307.6,289.8 308.7,291.0 310.0,292.1C311.2,293.2 312.4,294.3 313.8,295.4C315.1,296.4 316.4,297.4 317.8,298.3C319.2,299.3 320.6,300.1 322.1,301.0C323.5,301.8 325.0,302.6 326.6,303.3C328.1,304.0 329.6,304.7 331.2,305.4C332.8,306.0 334.4,306.6 336.0,307.1C337.6,307.7 339.2,308.2 340.9,308.7C342.5,309.2 344.2,309.7 345.9,310.1C347.5,310.5 349.2,310.9 350.9,311.3C352.6,311.7 354.3,312.0 356.0,312.3C357.7,312.6 359.5,312.9 361.2,313.2C362.9,313.5 364.6,313.8 366.3,314.0C368.0,314.3 369.7,314.5 371.4,314.8C373.1,315.0 374.8,315.2 376.4,315.4C378.1,315.6 379.8,315.9 381.4,316.1C383.0,316.3 384.7,316.5 386.2,316.7C387.8,317.0 390.2,317.3 391.0,317.4" stroke="#008b00" stroke-width="2.60"/>
<path d="M186.9,114.6C187.8,114.6 190.5,114.5 192.2,114.6C194.0,114.7 195.7,114.9 197.4,115.2C199.1,115.5 200.8,115.8 202.4,116.2C204.0,116.7 205.6,117.2 207.1,117.7C208.7,118.3 210.2,118.9 211.7,119.6C213.1,120.3 214.6,121.1 216.0,121.9C217.4,122.7 218.8,123.6 220.1,124.5C221.5,125.5 222.8,126.4 224.1,127.5C225.3,128.5 226.6,129.6 227.8,130.7C229.0,131.8 230.2,133.0 231.3,134.2C232.5,135.4 233.6,136.6 234.7,137.9C235.8,139.1 236.8,140.4 237.8,141.8C238.8,143.1 239.8,144.4 240.8,145.8C241.7,147.2 242.6,148.6 243.5,150.0C244.4,151.4 245.3,152.8 246.1,154.2C246.9,155.7 247.7,157.1 248.5,158.6C249.3,160.1 250.0,161.5 250.7,163.0C251.4,164.5 252.1,166.0 252.8,167.5C253.5,169.0 254.1,170.5 254.8,172.1C255.4,173.6 256.0,175.1 256.6,176.7C257.2,178.2 257.8,179.8 258.3,181.3C258.9,182.9 259.4,184.5 259.9,186.1C260.5,187.7 261.0,189.2 261.5,190.8C262.0,192.4 262.5,194.0 263.0,195.6C263.5,197.2 263.9,198.8 264.4,200.4C264.9,202.1 265.4,203.7 265.8,205.3C266.3,206.9 266.8,208.6 267.2,210.2C267.7,211.8 268.1,213.4 268.6,215.1C269.0,216.7 269.5,218.4 270.0,220.0C270.4,221.6 270.9,223.3 271.4,224.9C271.8,226.5 272.3,228.2 272.8,229.8C273.3,231.4 273.8,233.1 274.3,234.7C274.8,236.3 275.3,238.0 275.9,239.6C276.4,241.2 276.9,242.8 277.5,244.4C278.1,246.0 278.6,247.6 279.2,249.2C279.9,250.7 280.5,252.3 281.1,253.9C281.8,255.4 282.4,257.0 283.1,258.5C283.8,260.0 284.5,261.5 285.2,263.0C286.0,264.5 286.7,265.9 287.5,267.4C288.3,268.8 289.2,270.2 290.0,271.6C290.9,273.0 291.8,274.4 292.7,275.7C293.6,277.1 294.6,278.4 295.6,279.7C296.6,280.9 297.6,282.2 298.7,283.4C299.8,284.6 300.9,285.8 302.0,287.0C303.2,288.2 304.4,289.3 305.6,290.4C306.8,291.5 308.1,292.5 309.4,293.5C310.6,294.5 311.9,295.5 313.3,296.4C314.6,297.4 316.0,298.3 317.4,299.1C318.8,300.0 320.3,300.8 321.7,301.6C323.2,302.3 324.7,303.1 326.2,303.8C327.7,304.5 329.2,305.1 330.8,305.7C332.4,306.4 333.9,306.9 335.5,307.5C337.1,308.0 338.7,308.6 340.4,309.1C342.0,309.5 343.6,310.0 345.3,310.4C346.9,310.9 348.6,311.3 350.2,311.7C351.9,312.1 353.6,312.4 355.2,312.8C356.9,313.1 358.6,313.4 360.3,313.7C361.9,314.0 363.6,314.3 365.3,314.5C367.0,314.8 368.7,315.1 370.3,315.3C372.0,315.5 373.7,315.7 375.3,315.9C377.0,316.2 378.6,316.4 380.2,316.6C381.9,316.7 383.5,316.9 385.1,317.1C386.7,317.3 389.1,317.6 389.9,317.6" stroke="#9400d3" stroke-width="2.70"/>
<path d="M188.0,113.9C188.9,113.9 191.6,113.9 193.3,114.0C195.1,114.1 196.8,114.3 198.5,114.5C200.2,114.8 201.9,115.2 203.5,115.6C205.1,116.0 206.7,116.5 208.2,117.1C209.8,117.6 211.3,118.3 212.8,119.0C214.2,119.7 215.7,120.4 217.1,121.2C218.5,122.1 219.9,123.0 221.2,123.9C222.6,124.8 223.9,125.8 225.2,126.8C226.4,127.8 227.7,128.9 228.9,130.1C230.1,131.2 231.3,132.3 232.4,133.5C233.6,134.7 234.7,136.0 235.8,137.2C236.9,138.5 237.9,139.8 238.9,141.1C239.9,142.4 240.9,143.8 241.9,145.2C242.8,146.5 243.7,147.9 244.6,149.3C245.5,150.7 246.4,152.2 247.2,153.6C248.0,155.0 248.8,156.5 249.6,157.9C250.4,159.4 251.1,160.9 251.8,162.4C252.6,163.9 253.2,165.4 253.9,166.9C254.6,168.4 255.2,169.9 255.9,171.4C256.5,172.9 257.1,174.5 257.7,176.0C258.3,177.6 258.9,179.1 259.4,180.7C260.0,182.3 260.5,183.8 261.1,185.4C261.6,187.0 262.1,188.6 262.6,190.2C263.1,191.8 263.6,193.4 264.1,195.0C264.6,196.6 265.0,198.2 265.5,199.8C266.0,201.4 266.5,203.0 266.9,204.7C267.4,206.3 267.9,207.9 268.3,209.5C268.8,211.2 269.2,212.8 269.7,214.4C270.1,216.1 270.6,217.7 271.1,219.3C271.5,221.0 272.0,222.6 272.5,224.2C272.9,225.9 273.4,227.5 273.9,229.2C274.4,230.8 274.9,232.4 275.4,234.1C275.9,235.7 276.4,237.3 277.0,238.9C277.5,240.5 278.0,242.2 278.6,243.8C279.2,245.3 279.8,246.9 280.4,248.5C281.0,250.1 281.6,251.7 282.2,253.2C282.9,254.8 283.5,256.3 284.2,257.8C284.9,259.3 285.6,260.8 286.3,262.3C287.1,263.8 287.8,265.3 288.6,266.7C289.4,268.1 290.3,269.6 291.1,271.0C292.0,272.4 292.9,273.7 293.8,275.1C294.7,276.4 295.7,277.7 296.7,279.0C297.7,280.3 298.7,281.5 299.8,282.8C300.9,284.0 302.0,285.2 303.1,286.4C304.3,287.5 305.5,288.6 306.7,289.7C307.9,290.8 309.2,291.9 310.4,292.9C311.7,293.9 313.0,294.9 314.4,295.8C315.7,296.7 317.1,297.6 318.5,298.5C319.9,299.3 321.4,300.1 322.8,300.9C324.3,301.7 325.8,302.4 327.3,303.1C328.8,303.8 330.3,304.5 331.9,305.1C333.5,305.7 335.0,306.3 336.6,306.8C338.2,307.4 339.8,307.9 341.4,308.4C343.1,308.9 344.7,309.3 346.4,309.8C348.0,310.2 349.7,310.6 351.3,311.0C353.0,311.4 354.7,311.8 356.3,312.1C358.0,312.4 359.7,312.7 361.4,313.0C363.1,313.3 364.7,313.6 366.4,313.9C368.1,314.1 369.8,314.4 371.4,314.6C373.1,314.9 374.8,315.1 376.4,315.3C378.1,315.5 379.7,315.7 381.4,315.9C383.0,316.1 384.6,316.3 386.2,316.5C387.8,316.6 390.2,316.9 391.0,317.0" stroke="#ffa500" stroke-width="2.90"/>
<path d="M196.9,104.2C197.8,104.2 200.5,104.2 202.2,104.3C204.0,104.4 205.7,104.6 207.4,104.9C209.1,105.2 210.8,105.6 212.4,106.0C214.0,106.4 215.6,106.9 217.2,107.5C218.7,108.1 220.3,108.8 221.8,109.5C223.2,110.2 224.7,111.0 226.1,111.8C227.6,112.6 228.9,113.5 230.3,114.5C231.7,115.5 233.0,116.5 234.3,117.5C235.6,118.6 236.8,119.7 238.0,120.8C239.3,122.0 240.4,123.2 241.6,124.4C242.7,125.7 243.9,126.9 244.9,128.2C246.0,129.6 247.1,130.9 248.1,132.3C249.1,133.7 250.1,135.1 251.0,136.5C251.9,137.9 252.8,139.4 253.7,140.8C254.6,142.3 255.4,143.8 256.2,145.3C257.0,146.8 257.7,148.3 258.4,149.9C259.2,151.4 259.9,153.0 260.5,154.5C261.2,156.1 261.8,157.6 262.4,159.2C263.1,160.8 263.6,162.4 264.2,164.0C264.8,165.6 265.4,167.2 265.9,168.8C266.4,170.4 267.0,172.0 267.5,173.6C268.0,175.2 268.5,176.8 269.1,178.4C269.6,180.0 270.1,181.6 270.6,183.2C271.1,184.8 271.6,186.4 272.1,188.0C272.6,189.6 273.1,191.2 273.6,192.8C274.1,194.4 274.6,196.0 275.1,197.6C275.6,199.2 276.0,200.9 276.5,202.5C277.0,204.1 277.4,205.7 277.8,207.4C278.3,209.0 278.7,210.7 279.1,212.3C279.5,214.0 279.9,215.6 280.3,217.3C280.7,219.0 281.1,220.7 281.5,222.3C281.9,224.0 282.3,225.7 282.7,227.4C283.1,229.0 283.5,230.7 283.9,232.4C284.3,234.0 284.7,235.7 285.2,237.4C285.6,239.0 286.1,240.7 286.5,242.3C287.0,243.9 287.5,245.6 288.0,247.2C288.6,248.8 289.1,250.4 289.7,252.0C290.3,253.6 290.9,255.1 291.5,256.7C292.1,258.3 292.8,259.8 293.5,261.3C294.3,262.8 295.0,264.3 295.8,265.8C296.6,267.2 297.5,268.7 298.4,270.1C299.3,271.5 300.2,272.9 301.2,274.2C302.1,275.6 303.1,276.9 304.2,278.2C305.2,279.5 306.3,280.7 307.5,282.0C308.6,283.2 309.8,284.4 311.0,285.5C312.2,286.6 313.4,287.7 314.7,288.8C316.0,289.9 317.3,290.9 318.7,291.8C320.0,292.8 321.4,293.7 322.8,294.6C324.3,295.5 325.7,296.3 327.2,297.1C328.7,297.9 330.2,298.7 331.7,299.4C333.3,300.1 334.8,300.8 336.4,301.4C338.0,302.0 339.6,302.6 341.2,303.2C342.9,303.8 344.5,304.3 346.1,304.9C347.8,305.4 349.5,305.9 351.1,306.3C352.8,306.8 354.5,307.2 356.2,307.7C357.9,308.1 359.5,308.5 361.2,308.9C362.9,309.2 364.6,309.6 366.3,310.0C368.0,310.3 369.7,310.7 371.4,311.0C373.1,311.3 374.7,311.6 376.4,311.9C378.1,312.2 379.7,312.5 381.4,312.8C383.0,313.1 384.6,313.4 386.2,313.7C387.8,314.0 390.2,314.5 391.0,314.6" stroke="#ff0000" stroke-width="2.90"/>
<path d="M196.9,112.2C197.8,112.2 200.5,112.1 202.2,112.2C204.0,112.3 205.7,112.5 207.4,112.8C209.1,113.1 210.7,113.4 212.3,113.8C213.9,114.3 215.5,114.8 217.1,115.3C218.6,115.9 220.1,116.5 221.6,117.2C223.1,117.9 224.5,118.7 226.0,119.5C227.4,120.3 228.8,121.2 230.1,122.1C231.5,123.0 232.8,124.0 234.1,125.0C235.4,126.0 236.6,127.1 237.8,128.2C239.1,129.3 240.3,130.5 241.4,131.7C242.6,132.8 243.7,134.0 244.8,135.3C245.9,136.5 247.0,137.8 248.1,139.1C249.1,140.4 250.1,141.7 251.1,143.1C252.1,144.4 253.0,145.8 254.0,147.1C254.9,148.5 255.8,149.9 256.7,151.3C257.6,152.7 258.4,154.1 259.2,155.6C260.1,157.0 260.9,158.5 261.6,159.9C262.4,161.4 263.2,162.9 263.9,164.4C264.6,165.9 265.4,167.4 266.1,168.9C266.8,170.5 267.4,172.0 268.1,173.5C268.8,175.1 269.4,176.6 270.0,178.2C270.7,179.8 271.3,181.3 271.9,182.9C272.5,184.5 273.1,186.1 273.6,187.7C274.2,189.3 274.8,190.9 275.3,192.5C275.9,194.1 276.4,195.7 276.9,197.3C277.5,198.9 278.0,200.5 278.5,202.2C279.0,203.8 279.5,205.4 280.0,207.0C280.5,208.6 281.0,210.3 281.5,211.9C282.0,213.5 282.5,215.2 283.0,216.8C283.5,218.4 284.0,220.0 284.5,221.6C285.0,223.3 285.5,224.9 286.0,226.5C286.5,228.1 287.1,229.7 287.6,231.3C288.1,232.9 288.7,234.5 289.2,236.0C289.8,237.6 290.4,239.2 291.0,240.7C291.6,242.3 292.2,243.8 292.8,245.3C293.4,246.9 294.1,248.4 294.8,249.9C295.5,251.4 296.2,252.9 296.9,254.3C297.7,255.8 298.4,257.2 299.2,258.7C300.0,260.1 300.9,261.5 301.8,262.9C302.6,264.3 303.5,265.6 304.5,266.9C305.4,268.3 306.4,269.6 307.4,270.9C308.4,272.2 309.5,273.4 310.6,274.7C311.6,275.9 312.8,277.1 313.9,278.3C315.1,279.5 316.2,280.6 317.4,281.7C318.7,282.8 319.9,283.9 321.2,285.0C322.5,286.0 323.8,287.0 325.1,288.0C326.5,289.0 327.9,290.0 329.2,290.9C330.6,291.8 332.1,292.7 333.5,293.5C335.0,294.4 336.4,295.2 337.9,296.0C339.4,296.8 340.9,297.5 342.5,298.3C344.0,299.0 345.6,299.7 347.1,300.4C348.7,301.0 350.3,301.6 351.9,302.2C353.5,302.9 355.1,303.4 356.7,304.0C358.3,304.5 359.9,305.0 361.5,305.5C363.2,306.0 364.8,306.5 366.4,306.9C368.1,307.3 369.7,307.7 371.4,308.1C373.0,308.5 374.7,308.8 376.3,309.1C378.0,309.5 379.6,309.8 381.2,310.0C382.9,310.3 384.5,310.5 386.1,310.7C387.8,310.9 390.2,311.2 391.0,311.3" stroke="#00ffff" stroke-width="2.90"/>
<path d="M208.4,98.9C209.3,98.9 211.9,98.8 213.6,99.0C215.3,99.1 217.0,99.3 218.6,99.6C220.3,99.9 221.9,100.3 223.5,100.7C225.0,101.2 226.6,101.7 228.1,102.3C229.6,102.9 231.1,103.6 232.5,104.4C234.0,105.1 235.4,105.9 236.8,106.8C238.2,107.6 239.5,108.6 240.8,109.6C242.2,110.5 243.4,111.6 244.7,112.7C246.0,113.8 247.2,114.9 248.4,116.1C249.6,117.3 250.7,118.5 251.8,119.8C253.0,121.0 254.1,122.3 255.1,123.7C256.2,125.0 257.2,126.4 258.2,127.8C259.2,129.1 260.2,130.6 261.2,132.0C262.1,133.4 263.0,134.9 263.9,136.4C264.8,137.9 265.6,139.4 266.4,140.9C267.2,142.4 268.0,143.9 268.8,145.4C269.5,146.9 270.3,148.5 271.0,150.0C271.7,151.5 272.4,153.1 273.0,154.6C273.7,156.2 274.3,157.7 274.9,159.3C275.5,160.8 276.1,162.4 276.6,164.0C277.2,165.5 277.8,167.1 278.3,168.7C278.8,170.3 279.3,171.9 279.8,173.5C280.3,175.1 280.8,176.6 281.3,178.2C281.8,179.8 282.3,181.4 282.7,183.1C283.2,184.7 283.6,186.3 284.1,187.9C284.5,189.5 285.0,191.1 285.4,192.7C285.8,194.3 286.3,196.0 286.7,197.6C287.1,199.2 287.6,200.8 288.0,202.5C288.5,204.1 288.9,205.7 289.3,207.3C289.8,209.0 290.2,210.6 290.7,212.2C291.2,213.9 291.6,215.5 292.1,217.1C292.6,218.8 293.1,220.4 293.6,222.0C294.1,223.7 294.6,225.3 295.1,226.9C295.6,228.5 296.2,230.2 296.7,231.8C297.3,233.4 297.9,235.0 298.5,236.6C299.0,238.2 299.7,239.8 300.3,241.3C300.9,242.9 301.6,244.5 302.2,246.0C302.9,247.6 303.6,249.1 304.3,250.6C305.0,252.2 305.7,253.7 306.5,255.2C307.3,256.6 308.0,258.1 308.9,259.6C309.7,261.0 310.5,262.5 311.4,263.9C312.2,265.3 313.1,266.7 314.1,268.0C315.0,269.4 315.9,270.7 316.9,272.0C317.9,273.4 318.9,274.6 320.0,275.9C321.1,277.2 322.1,278.4 323.3,279.6C324.4,280.8 325.6,282.0 326.8,283.1C327.9,284.2 329.2,285.3 330.5,286.4C331.7,287.5 333.0,288.5 334.4,289.5C335.7,290.5 337.1,291.4 338.5,292.4C339.9,293.3 341.4,294.2 342.8,295.1C344.3,295.9 345.8,296.8 347.3,297.5C348.8,298.3 350.4,299.1 351.9,299.8C353.5,300.5 355.1,301.2 356.6,301.9C358.2,302.5 359.8,303.1 361.4,303.7C363.1,304.3 364.7,304.9 366.3,305.4C368.0,305.9 369.6,306.4 371.3,306.8C372.9,307.3 374.6,307.7 376.2,308.0C377.9,308.4 379.5,308.7 381.2,309.0C382.8,309.3 384.5,309.6 386.1,309.8C387.8,310.1 390.2,310.3 391.0,310.4" stroke="#7221bc" stroke-width="2.90"/>
</g>
<g stroke="#000" stroke-width="2.40" fill="none" stroke-linejoin="miter">
<line x1="185.5" y1="189.7" x2="248.4" y2="189.7"/>
<line x1="248.4" y1="182.2" x2="248.4" y2="197.2"/>
<polyline points="199.0,182.1 185.5,189.7 199.0,197.3"/>
</g>
<text font-size="14.2" letter-spacing="0.08" transform="translate(183.4,197.6) rotate(90)">GW170817</text>
<line x1="68.4" y1="167.50" x2="85.0" y2="167.50" stroke="#000000" stroke-width="2.80"/><text x="90.0" y="171.10" font-size="12.0" letter-spacing="0.42">IUFSU<tspan dx="1.3" letter-spacing="0.45">(0.16)</tspan></text>
<line x1="68.4" y1="182.75" x2="85.0" y2="182.75" stroke="#80184f" stroke-width="2.80"/><text x="90.0" y="186.35" font-size="12.0" letter-spacing="0.42">FSUGarnet<tspan dx="1.3" letter-spacing="0.45">(0.16)</tspan></text>
<line x1="68.4" y1="198.00" x2="85.0" y2="198.00" stroke="#0000ff" stroke-width="2.80"/><text x="90.0" y="201.60" font-size="12.0" letter-spacing="0.42">RMF022<tspan dx="1.3" letter-spacing="0.45">(0.22)</tspan></text>
<line x1="68.4" y1="213.25" x2="85.0" y2="213.25" stroke="#ff00ff" stroke-width="2.80"/><text x="90.0" y="216.85" font-size="12.0" letter-spacing="0.42">TAMUa<tspan dx="1.3" letter-spacing="0.45">(0.25)</tspan></text>
<line x1="68.4" y1="228.50" x2="85.0" y2="228.50" stroke="#008b00" stroke-width="2.80"/><text x="90.0" y="232.10" font-size="12.0" letter-spacing="0.42">NL3<tspan dx="1.3" letter-spacing="0.45">(0.28)</tspan></text>
<line x1="68.4" y1="243.75" x2="85.0" y2="243.75" stroke="#9400d3" stroke-width="2.80"/><text x="90.0" y="247.35" font-size="12.0" letter-spacing="0.42">RMF028<tspan dx="1.3" letter-spacing="0.45">(0.28)</tspan></text>
<line x1="68.4" y1="259.00" x2="85.0" y2="259.00" stroke="#ffa500" stroke-width="2.80"/><text x="90.0" y="262.60" font-size="12.0" letter-spacing="0.42">FSUGold2<tspan dx="1.3" letter-spacing="0.45">(0.29)</tspan></text>
<line x1="68.4" y1="274.25" x2="85.0" y2="274.25" stroke="#ff0000" stroke-width="2.80"/><text x="90.0" y="277.85" font-size="12.0" letter-spacing="0.42">TAMUb<tspan dx="1.3" letter-spacing="0.45">(0.30)</tspan></text>
<line x1="68.4" y1="289.50" x2="85.0" y2="289.50" stroke="#00ffff" stroke-width="2.80"/><text x="90.0" y="293.10" font-size="12.0" letter-spacing="0.42">RMF032<tspan dx="1.3" letter-spacing="0.45">(0.32)</tspan></text>
<line x1="68.4" y1="304.75" x2="85.0" y2="304.75" stroke="#7221bc" stroke-width="2.80"/><text x="90.0" y="308.35" font-size="12.0" letter-spacing="0.42">TAMUc<tspan dx="1.3" letter-spacing="0.45">(0.33)</tspan></text>
<text class="s" x="295.5" y="113.4" font-size="14.2">J0348+0432</text>
<text class="s" x="295.5" y="144.6" font-size="14.2">J1614-2230</text>
<text x="354.8" y="271.4" font-size="17.4" letter-spacing="0.50">(a)</text>
<g stroke="#000" stroke-width="1.80" fill="none">
<path d="M68.4,347.2v-5.9M68.4,10.0v5.9M106.5,347.2v-10.2M106.5,10.0v10.2M144.6,347.2v-5.9M144.6,10.0v5.9M182.6,347.2v-10.2M182.6,10.0v10.2M220.7,347.2v-5.9M220.7,10.0v5.9M258.8,347.2v-10.2M258.8,10.0v10.2M296.9,347.2v-5.9M296.9,10.0v5.9M334.9,347.2v-10.2M334.9,10.0v10.2M373.0,347.2v-5.9M373.0,10.0v5.9M59.1,347.2h10.2M391.9,347.2h-10.2M59.1,319.1h5.9M391.9,319.1h-5.9M59.1,291.0h10.2M391.9,291.0h-10.2M59.1,262.9h5.9M391.9,262.9h-5.9M59.1,234.8h10.2M391.9,234.8h-10.2M59.1,206.7h5.9M391.9,206.7h-5.9M59.1,178.6h10.2M391.9,178.6h-10.2M59.1,150.5h5.9M391.9,150.5h-5.9M59.1,122.4h10.2M391.9,122.4h-10.2M59.1,94.3h5.9M391.9,94.3h-5.9M59.1,66.2h10.2M391.9,66.2h-10.2M59.1,38.1h5.9M391.9,38.1h-5.9M59.1,10.0h10.2M391.9,10.0h-10.2"/>
</g>
<rect x="59.1" y="10.0" width="332.8" height="337.2" fill="none" stroke="#000" stroke-width="2.30"/>
<text x="107.3" y="366.0" font-size="21.0" text-anchor="middle" letter-spacing="0.00">10</text>
<text x="183.4" y="366.0" font-size="21.0" text-anchor="middle" letter-spacing="0.00">12</text>
<text x="259.6" y="366.0" font-size="21.0" text-anchor="middle" letter-spacing="0.00">14</text>
<text x="335.7" y="366.0" font-size="21.0" text-anchor="middle" letter-spacing="0.00">16</text>
<text x="55.5" y="354.1" font-size="21.0" text-anchor="end" letter-spacing="0.00">0</text>
<text x="55.0" y="297.9" font-size="21.0" text-anchor="end" letter-spacing="-0.50">0.5</text>
<text x="55.5" y="241.7" font-size="21.0" text-anchor="end" letter-spacing="0.00">1</text>
<text x="55.0" y="185.5" font-size="21.0" text-anchor="end" letter-spacing="-0.50">1.5</text>
<text x="55.5" y="129.3" font-size="21.0" text-anchor="end" letter-spacing="0.00">2</text>
<text x="55.0" y="73.1" font-size="21.0" text-anchor="end" letter-spacing="-0.50">2.5</text>
<text x="55.5" y="16.9" font-size="21.0" text-anchor="end" letter-spacing="0.00">3</text>
<text x="191.2" y="385.5" font-size="22.0">R</text><path d="M0,-1 L0.2245,-0.309 L0.951,-0.309 L0.3633,0.118 L0.5878,0.809 L0,0.382 L-0.5878,0.809 L-0.3633,0.118 L-0.951,-0.309 L-0.2245,-0.309Z" transform="translate(211.7,387.6) scale(6.60)"/><text x="217.9" y="385.5" font-size="22.0" letter-spacing="0.35">(km)</text>
<g transform="translate(18.2,221.2) rotate(-90)"><text x="0" y="0" font-size="21.7">M</text><path d="M0,-1 L0.2245,-0.309 L0.951,-0.309 L0.3633,0.118 L0.5878,0.809 L0,0.382 L-0.5878,0.809 L-0.3633,0.118 L-0.951,-0.309 L-0.2245,-0.309Z" transform="translate(26.6,2.6) scale(6.50)"/><text x="35.0" y="0" font-size="21.7">/</text><text x="42.6" y="0" font-size="21.7">M</text><text x="62.4" y="5.5" font-size="16.0" letter-spacing="0.30">sun</text></g>
</svg>
</body></html>
